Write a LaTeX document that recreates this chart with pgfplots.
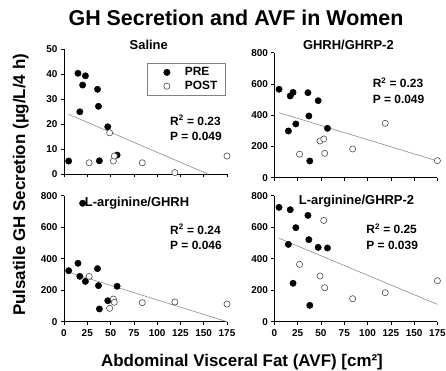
\documentclass[border=0pt]{standalone}
\usepackage{fontspec}
\setmainfont{Liberation Sans}
\usepackage{pgfplots}
\pgfplotsset{compat=1.18}

\pgfplotsset{
  panel/.style={
    scale only axis, width=163bp, height=125bp,
    axis lines=left, axis line style={-, line width=0.7bp},
    xmin=0, xmax=175, ymin=0,
    xtick={0,25,...,175},
    tick align=outside, major tick length=3bp,
    tick style={black, line width=0.6bp},
    tick label style={font=\fontsize{10}{12}\selectfont\bfseries},
    xticklabel style={yshift=-1.5bp},
    /pgf/number format/assume math mode=true,
    clip=false,
    anchor=south west,
  },
  pre/.style={only marks, mark=*, mark size=3.2bp,
    mark options={fill=black, draw=black}},
  post/.style={only marks, mark=*, mark size=3.1bp,
    mark options={fill=white, draw=black!70, line width=0.6bp}},
  fit/.style={black!45, line width=0.6bp, no marks, forget plot},
}
\tikzset{
  ptitle/.style={font=\fontsize{13}{15}\selectfont\bfseries},
  stat/.style={font=\fontsize{12}{15.5}\selectfont\bfseries, align=left, anchor=west},
}

% AVF of each woman (cm^2) and her pulsatile GH secretion (ug/L/4 h)
\pgfplotstableread{
x   sal   ghrp  argghrh argghrp
5   5.3   566   324     726
15  40.4  299   371     491
17  25.0  523   288     711
20  35.7  546   752     244
23  39.4  344   256     597
36  34.0  544   337     675
37  27.2  395   229     521
38  5.4   107   81      104
47  19.0  493   133     472
57  7.7   316   225     468
}\pretab

\pgfplotstableread{
x   sal   ghrp  argghrh argghrp
27  4.6   150   288     364
49  16.6  235   85      290
53  5.3   248   144     643
54  7.3   156   123     216
84  4.6   184   121     146
119 0.7   348   125     184
175 7.3   109   112     260
}\posttab

\begin{document}
\begin{tikzpicture}
\path[use as bounding box] (0bp,0bp) rectangle (446bp,371bp);
\coordinate (pTL) at (64bp,196.7bp);
\coordinate (pTR) at (274.4bp,193.3bp);
\coordinate (pBL) at (64bp,49.3bp);
\coordinate (pBR) at (274.4bp,49.3bp);

\node[font=\fontsize{21.5}{24}\selectfont\bfseries, anchor=base, inner sep=0pt] at (236bp,345bp)
  {GH Secretion and AVF in Women};
\node[font=\fontsize{17}{19}\selectfont\bfseries, anchor=base, inner sep=0pt] at (242bp,5bp)
  {Abdominal Visceral Fat (AVF) [cm²]};
\node[font=\fontsize{17}{19}\selectfont\bfseries, rotate=90, anchor=base, inner sep=0pt] at (25bp,186bp)
  {Pulsatile GH Secretion (µg/L/4 h)};

% Saline
\begin{axis}[panel, at={(pTL)}, ymax=50, ytick={0,10,...,50}, xticklabels={},
  legend style={at={(rel axis cs:0.507,0.888)}, anchor=north west,
    draw=black!50, line width=0.5bp,
    font=\fontsize{12}{14}\selectfont\bfseries,
    inner xsep=6bp, inner ysep=2bp, row sep=0bp,
    /tikz/every odd column/.append style={column sep=6bp}},
  legend cell align=left,
  legend image code/.code={%
    \path[draw=none, fill=none] (-4bp,0bp) -- (20bp,0bp);
    \draw[#1, only marks] plot coordinates {(10bp,0bp)};}]
  \addplot[pre]  table[x=x, y=sal] {\pretab};
  \addlegendentry{PRE}
  \addplot[post] table[x=x, y=sal] {\posttab};
  \addlegendentry{POST}
  \addplot[fit] coordinates {(5,24) (155,0)};
  \node[ptitle] at (rel axis cs:0.52,1.037) {Saline};
  \node[stat] at (rel axis cs:0.63,0.37) {R\textsuperscript{2} = 0.23\\P = 0.049};
\end{axis}

% GHRH/GHRP-2
\begin{axis}[panel, at={(pTR)}, ymax=800, ytick={0,200,...,800}, xticklabels={}]
  \addplot[pre]  table[x=x, y=ghrp] {\pretab};
  \addplot[post] table[x=x, y=ghrp] {\posttab};
  \addplot[fit] coordinates {(5,416) (175,107)};
  \node[ptitle] at (rel axis cs:0.454,1.064) {GHRH/GHRP-2};
  \node[stat] at (rel axis cs:0.582,0.695) {R\textsuperscript{2} = 0.23\\P = 0.049};
\end{axis}

% L-arginine/GHRH
\begin{axis}[panel, at={(pBL)}, height=126bp, ymax=800, ytick={0,200,...,800}]
  \addplot[pre]  table[x=x, y=argghrh] {\pretab};
  \addplot[post] table[x=x, y=argghrh] {\posttab};
  \addplot[fit] coordinates {(5,314) (175,0)};
  \node[ptitle] at (rel axis cs:0.448,0.94) {L-arginine/GHRH};
  \node[stat] at (rel axis cs:0.63,0.672) {R\textsuperscript{2} = 0.24\\P = 0.046};
\end{axis}

% L-arginine/GHRP-2
\begin{axis}[panel, at={(pBR)}, height=126bp, ymax=800, ytick={0,200,...,800}]
  \addplot[pre]  table[x=x, y=argghrp] {\pretab};
  \addplot[post] table[x=x, y=argghrp] {\posttab};
  \addplot[fit] coordinates {(5,530) (175,110)};
  \node[ptitle] at (rel axis cs:0.504,0.96) {L-arginine/GHRP-2};
  \node[stat] at (rel axis cs:0.543,0.675) {R\textsuperscript{2} = 0.25\\P = 0.039};
\end{axis}
\end{tikzpicture}
\end{document}
